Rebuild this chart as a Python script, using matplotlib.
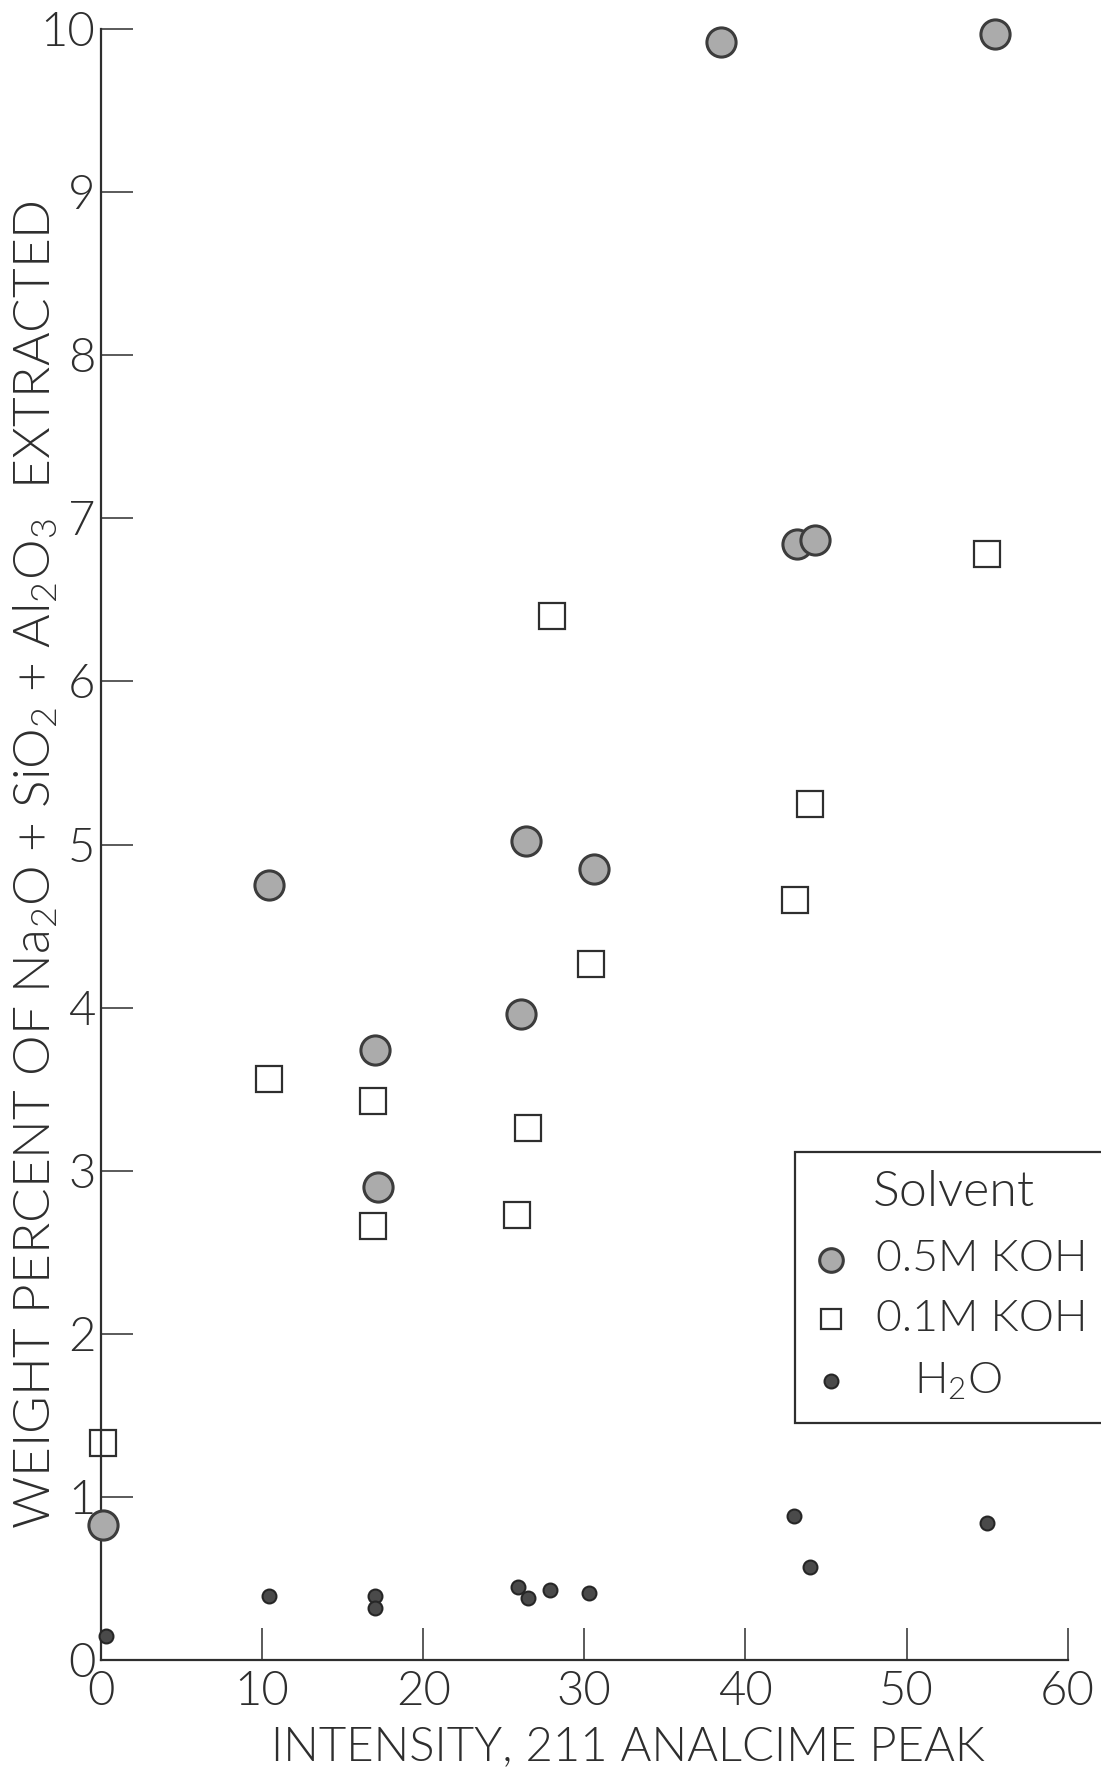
import matplotlib
matplotlib.use("Agg")
import matplotlib.pyplot as plt
from matplotlib.lines import Line2D
from matplotlib.patches import Rectangle

plt.rcParams['font.family'] = ['Lato', 'DejaVu Sans']
plt.rcParams['font.weight'] = 300
plt.rcParams['axes.labelweight'] = 300
plt.rcParams['mathtext.default'] = 'regular'

# 0.5M KOH solvent
koh05_x = [0.1, 10.4, 17.0, 17.2, 26.4, 26.05, 30.6, 38.5, 55.5, 43.2, 44.3]
koh05_y = [0.83, 4.75, 3.74, 2.90, 5.02, 3.96, 4.85, 9.92, 9.97, 6.84, 6.87]

# 0.1M KOH solvent
koh01_x = [0.1, 10.4, 16.9, 16.9, 25.8, 26.5, 28.0, 30.4, 43.1, 44.0, 55.0]
koh01_y = [1.33, 3.56, 3.43, 2.66, 2.73, 3.26, 6.40, 4.27, 4.66, 5.25, 6.78]

# water
h2o_x = [0.3, 10.4, 17.0, 17.0, 25.9, 26.5, 27.9, 30.3, 43.0, 44.0, 55.0]
h2o_y = [0.15, 0.39, 0.39, 0.32, 0.45, 0.38, 0.43, 0.41, 0.88, 0.57, 0.84]

xticks = [0, 10, 20, 30, 40, 50, 60]
yticks = [0, 1, 2, 3, 4, 5, 6, 7, 8, 9, 10]

ink = '#2e2e2e'
big_style = dict(marker='o', markersize=21, markerfacecolor='#ababab',
                 markeredgecolor='#3c3c3c', markeredgewidth=2.2, linestyle='none')
sq_style = dict(marker='s', markersize=19, markerfacecolor='none',
                markeredgecolor=ink, markeredgewidth=1.6, linestyle='none')
dot_style = dict(marker='o', markersize=10, markerfacecolor='#4a4a4a',
                 markeredgecolor='#262626', markeredgewidth=1.5, linestyle='none')

fig = plt.figure(figsize=(11.01, 17.72), dpi=100)
ax = fig.add_axes([0.0917, 0.0632, 0.878, 0.9204])

ax.plot(koh05_x, koh05_y, clip_on=False, zorder=3, **big_style)
ax.plot(koh01_x, koh01_y, clip_on=False, zorder=3, **sq_style)
ax.plot(h2o_x, h2o_y, clip_on=False, zorder=3, **dot_style)

ax.set_xlim(0, 60)
ax.set_ylim(0, 10)
ax.set_xticks(xticks)
ax.set_yticks(yticks)
ax.spines['top'].set_visible(False)
ax.spines['right'].set_visible(False)
for s in ['left', 'bottom']:
    ax.spines[s].set_color(ink)
    ax.spines[s].set_linewidth(1.6)
ax.tick_params(direction='in', length=23, width=1.1, color=ink,
               labelsize=34, labelcolor=ink)
ax.tick_params(axis='y', pad=4)
ax.tick_params(axis='x', pad=8)

# axis titles placed in figure coordinates
fig.text(0.570, 0.0141, 'INTENSITY, 211 ANALCIME PEAK', fontsize=34, color=ink,
         ha='center', va='center')
fig.text(0.032, 0.512, 'WEIGHT PERCENT OF Na$_2$O + SiO$_2$ + Al$_2$O$_3$  EXTRACTED',
         fontsize=37, color=ink, ha='center', va='center', rotation=90)

# legend box drawn by hand, runs off the right edge
fig.add_artist(Rectangle((0.722, 0.197), 0.3, 0.153, transform=fig.transFigure,
                         facecolor='white', edgecolor=ink, linewidth=1.6, zorder=5))
fig.text(0.866, 0.327, 'Solvent', fontsize=36, color=ink, ha='center', va='center', zorder=6)
rows = [(0.289, big_style, '0.5M KOH', 0.7956, 'left'),
        (0.2556, sq_style, '0.1M KOH', 0.7956, 'left'),
        (0.2207, dot_style, 'H$_2$O', 0.870, 'center')]
for y, st, label, tx, ha in rows:
    st = dict(st)
    if st['marker'] == 'o' and st['markersize'] > 15:
        st['markersize'] = 17
    if st['marker'] == 's':
        st['markersize'] = 15
    fig.add_artist(Line2D([0.755], [y], transform=fig.transFigure, zorder=6, **st))
    fig.text(tx, y, label, fontsize=32, color=ink, ha=ha, va='center', zorder=6)

fig.savefig('out.png', dpi=100)
